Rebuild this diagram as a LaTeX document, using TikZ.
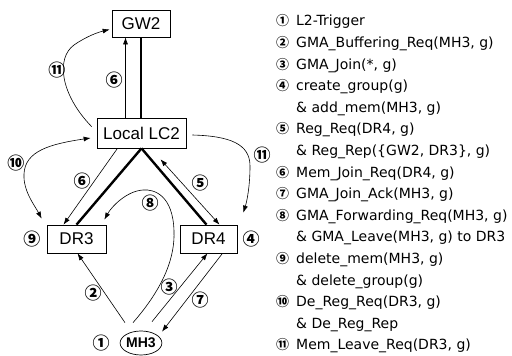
\documentclass[tikz,border=0pt]{standalone}
\usepackage{fontspec}
\setmainfont{Liberation Sans}
\newfontfamily\legendfont{DejaVu Sans}
\newfontfamily\numfont{Noto Sans CJK SC}
\usetikzlibrary{positioning}
\usetikzlibrary{arrows.meta}
\usetikzlibrary{shapes.geometric}

\tikzset{
  router/.style={draw, line width=0.7pt, inner sep=0pt, minimum height=28pt, font=\fontsize{17}{17}\selectfont},
  host/.style={draw, ellipse, line width=0.7pt, inner sep=0pt, minimum width=38pt, minimum height=24pt, font=\bfseries\fontsize{14}{14}\selectfont},
  msg/.style={line width=0.6pt, -{Latex[length=7pt,width=5pt]}},
  msgboth/.style={line width=0.6pt, {Latex[length=7pt,width=5pt]}-{Latex[length=7pt,width=5pt]}},
  tree/.style={line width=2.4pt},
  step num/.style={inner sep=0pt, font=\numfont\bfseries\fontsize{17}{17}\selectfont},
  key/.style={anchor=base west, inner sep=0pt, font=\numfont\bfseries\fontsize{13}{13}\selectfont},
  legend/.style={anchor=base west, inner sep=0pt, font=\legendfont\fontsize{14}{14}\selectfont},
}

\begin{document}
\begin{tikzpicture}[x=1pt, y=1pt]
    \useasboundingbox (0,0) rectangle (512,356);

    % nodes of the domain
    \node [router, minimum width=89pt, minimum height=30pt] (lc2) at (141.5,223) {Local LC2};
    \node [router, minimum width=58pt, minimum height=27pt] (gw2) at (141,332.5) {GW2};
    \node [router, minimum width=59pt] (dr3) at (76.5,117) {DR3};
    \node [router, minimum width=57pt] (dr4) at (208.5,117) {DR4};
    \node [host] (mh3) at (141,13) {MH3};

    % multicast tree
    \draw [tree] (lc2.north -| gw2.south) -- (gw2.south);
    \draw [tree] (lc2.south) -- (dr3.north);
    \draw [tree] (lc2.south) -- ([xshift=-2pt]dr4.north);

    % signalling
    \draw [msg] ([xshift=-16pt]lc2.north) -- ([xshift=-16pt]lc2.north |- gw2.south);
    \draw [msg] ([xshift=-24pt]lc2.south) -- ([xshift=-13pt]dr3.north);
    \draw [msgboth] ([xshift=19pt,yshift=-11pt]lc2.south) -- ([xshift=11pt]dr4.north);
    \draw [msg] ([xshift=-16pt,yshift=8pt]mh3.north) -- ([xshift=1pt]dr3.south);
    \draw [msg] ([xshift=11pt,yshift=9pt]mh3.north) -- ([xshift=-1pt]dr4.south);
    \draw [msg] ([xshift=14pt]dr4.south) -- ([xshift=21pt,yshift=-1pt]mh3.north);
    \draw [msg] ([xshift=-8pt,yshift=8pt]mh3.north)
        .. controls (165,70) and (175,100) .. (174,125)
        .. controls (173,160) and (155,167) .. (143,166)
        .. controls (127,165) and (112,150) .. ([xshift=-2pt,yshift=5pt]dr3.north east);
    \draw [msgboth] ([xshift=-6pt,yshift=-5pt]lc2.west)
        .. controls (50,212) and (25,205) .. (24,182)
        .. controls (23,165) and (35,150) .. ([xshift=-5pt,yshift=6pt]dr3.north west);
    \draw [msg] ([xshift=-5pt,yshift=-9pt]lc2.north west)
        .. controls (60,262) and (56,298) .. (74,311)
        .. controls (87,320) and (99,324) .. ([xshift=-2pt,yshift=-6pt]gw2.west);
    \draw [msg] ([xshift=6pt,yshift=-2pt]lc2.east)
        .. controls (230,220) and (250,212) .. (250,190)
        .. controls (250,170) and (247,155) .. ([xshift=6pt,yshift=12pt]dr4.north east);

    % step numbers
    \node [step num] (s11a) at (57,286) {⑪};
    \node [step num] (s6a) at (114,276) {⑥};
    \node [step num] (s10) at (16,193) {⑩};
    \node [step num] (s11b) at (262,201) {⑪};
    \node [step num] (s6b) at (82,175) {⑥};
    \node [step num] (s5) at (200,173) {⑤};
    \node [step num] (s8) at (150,153) {⑧};
    \node [step num, left=6pt of dr3] (s9) {⑨};
    \node [step num, right=5pt of dr4] (s4) {④};
    \node [step num] (s2) at (93,63) {②};
    \node [step num] (s3) at (169,69) {③};
    \node [step num] (s7) at (200,56) {⑦};
    \node [step num, left=10pt of mh3] (s1) {①};

    % message list
    \foreach \n/\txt [count=\i from 0] in {
        ①/{L2-Trigger},
        ②/{GMA\_Buffering\_Req(MH3, g)},
        ③/{GMA\_Join(*, g)},
        ④/{create\_group(g)},
        /{\& add\_mem(MH3, g)},
        ⑤/{Reg\_Req(DR4, g)},
        /{\& Reg\_Rep(\{GW2, DR3\}, g)},
        ⑥/{Mem\_Join\_Req(DR4, g)},
        ⑦/{GMA\_Join\_Ack(MH3, g)},
        ⑧/{GMA\_Forwarding\_Req(MH3, g)},
        /{\& GMA\_Leave(MH3, g) to DR3},
        ⑨/{delete\_mem(MH3, g)},
        /{\& delete\_group(g)},
        ⑩/{De\_Reg\_Req(DR3, g)},
        /{\& De\_Reg\_Rep},
        ⑪/{Mem\_Leave\_Req(DR3, g)}} {
      \node [key] (key\i) at (276,330-21.6*\i) {\n};
      \node [legend] (msg\i) at (296,330-21.6*\i) {\txt};
    }
\end{tikzpicture}
\end{document}
